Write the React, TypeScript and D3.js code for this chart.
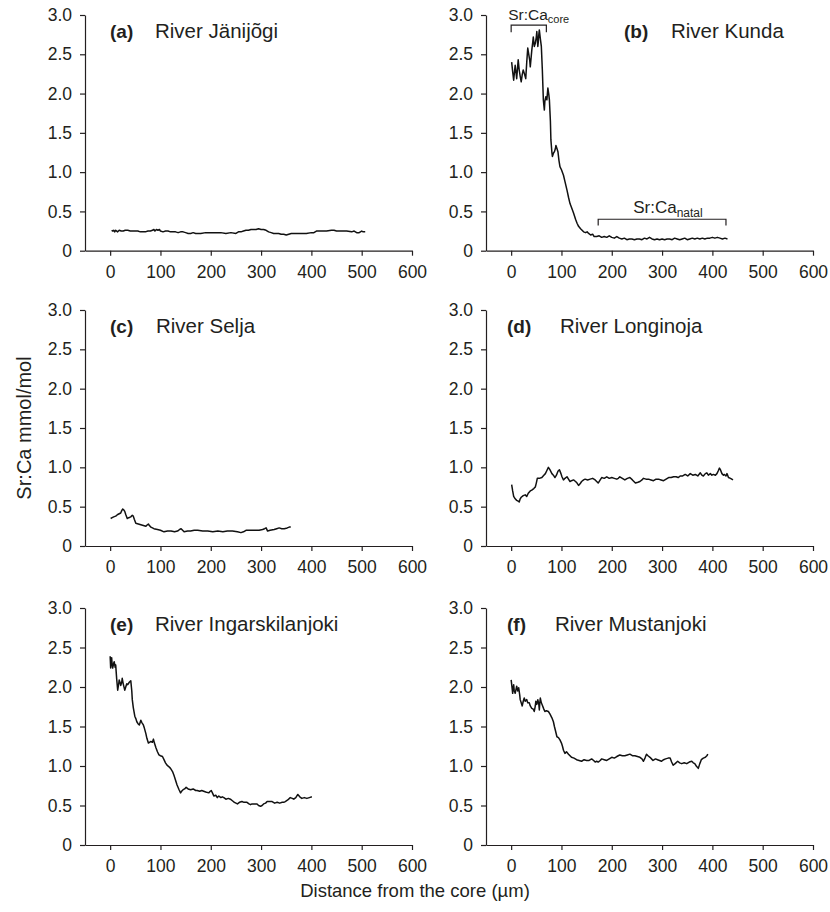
import React, { useRef, useEffect } from 'react';
import * as d3 from 'd3';

type Pt = [number, number];

const xTicks = [0, 100, 200, 300, 400, 500, 600];
const yTicks = [0, 0.5, 1.0, 1.5, 2.0, 2.5, 3.0];

// distance from core (µm), Sr:Ca (mmol/mol)
const janijogi: Pt[] = [
  [3, 0.26], [5, 0.25], [7, 0.26], [9, 0.24], [11, 0.26], [13, 0.25], [15, 0.24], [18, 0.26], [22, 0.25],
  [26, 0.25], [30, 0.26], [35, 0.26], [40, 0.25], [45, 0.25], [50, 0.25], [55, 0.25], [60, 0.24],
  [65, 0.24], [70, 0.24], [75, 0.25], [80, 0.25], [84, 0.26], [87, 0.27], [89, 0.25], [92, 0.27],
  [95, 0.26], [98, 0.27], [100, 0.25], [105, 0.24], [110, 0.25], [115, 0.25], [120, 0.24], [125, 0.24],
  [130, 0.24], [135, 0.23], [140, 0.24], [145, 0.24], [150, 0.23], [155, 0.22], [160, 0.22], [165, 0.23],
  [170, 0.22], [175, 0.22], [180, 0.22], [190, 0.23], [200, 0.23], [210, 0.23], [220, 0.23], [230, 0.22],
  [240, 0.23], [250, 0.22], [255, 0.24], [260, 0.24], [265, 0.25], [270, 0.26], [275, 0.26], [280, 0.27],
  [285, 0.27], [290, 0.27], [295, 0.28], [300, 0.27], [305, 0.27], [310, 0.26], [315, 0.24], [320, 0.23],
  [325, 0.22], [330, 0.22], [335, 0.22], [340, 0.21], [345, 0.21], [350, 0.2], [355, 0.21], [360, 0.22],
  [370, 0.22], [380, 0.22], [390, 0.22], [400, 0.23], [405, 0.23], [410, 0.25], [415, 0.25], [420, 0.25],
  [430, 0.25], [440, 0.26], [445, 0.26], [450, 0.25], [460, 0.25], [470, 0.25], [480, 0.24], [485, 0.25],
  [490, 0.23], [495, 0.23], [500, 0.25], [503, 0.24], [507, 0.24],
];

const kunda: Pt[] = [
  [1, 2.4], [3, 2.28], [5, 2.17], [7, 2.3], [8, 2.36], [10, 2.25], [11, 2.19], [13, 2.35], [14, 2.43],
  [16, 2.3], [18, 2.22], [20, 2.15], [22, 2.24], [24, 2.3], [26, 2.26], [29, 2.19], [31, 2.4], [33, 2.58],
  [35, 2.5], [37, 2.42], [38, 2.34], [40, 2.48], [41, 2.55], [43, 2.66], [44, 2.72], [46, 2.6], [48, 2.64],
  [50, 2.72], [51, 2.79], [53, 2.6], [54, 2.66], [55, 2.75], [56, 2.81], [58, 2.7], [60, 2.6], [62, 2.3],
  [64, 1.92], [66, 1.79], [67, 1.9], [69, 1.96], [71, 1.92], [73, 2.07], [75, 1.98], [76, 1.92], [78, 1.65],
  [79, 1.41], [81, 1.25], [82, 1.2], [84, 1.24], [86, 1.26], [88, 1.3], [89, 1.34], [91, 1.3], [93, 1.26],
  [95, 1.15], [97, 1.07], [100, 1.03], [104, 0.96], [107, 0.88], [111, 0.77], [114, 0.68], [117, 0.6],
  [120, 0.55], [124, 0.48], [128, 0.4], [131, 0.35], [134, 0.31], [138, 0.28], [141, 0.26], [144, 0.24],
  [148, 0.23], [151, 0.24], [154, 0.22], [158, 0.2], [162, 0.21], [165, 0.18], [170, 0.18], [175, 0.19],
  [180, 0.17], [185, 0.18], [190, 0.17], [195, 0.19], [200, 0.17], [205, 0.16], [210, 0.18], [215, 0.16],
  [220, 0.15], [225, 0.16], [230, 0.14], [235, 0.15], [240, 0.15], [245, 0.14], [250, 0.15], [255, 0.15],
  [260, 0.14], [265, 0.16], [270, 0.15], [275, 0.17], [280, 0.15], [285, 0.14], [290, 0.15], [295, 0.14],
  [300, 0.15], [305, 0.14], [310, 0.15], [315, 0.15], [320, 0.14], [325, 0.16], [330, 0.15], [335, 0.14],
  [340, 0.15], [345, 0.16], [350, 0.14], [355, 0.15], [360, 0.16], [365, 0.15], [370, 0.16], [375, 0.15],
  [380, 0.16], [385, 0.15], [390, 0.16], [395, 0.16], [400, 0.17], [405, 0.16], [410, 0.17], [415, 0.16],
  [420, 0.15], [425, 0.16], [430, 0.15],
];

const selja: Pt[] = [
  [1, 0.35], [4, 0.36], [7, 0.37], [11, 0.38], [15, 0.4], [18, 0.41], [21, 0.42], [23, 0.45], [25, 0.47],
  [27, 0.46], [29, 0.44], [31, 0.4], [34, 0.35], [37, 0.36], [41, 0.37], [44, 0.39], [46, 0.38], [48, 0.34],
  [51, 0.29], [56, 0.28], [61, 0.27], [66, 0.26], [71, 0.25], [74, 0.27], [76, 0.28], [78, 0.26], [81, 0.24],
  [87, 0.22], [94, 0.21], [100, 0.2], [107, 0.18], [114, 0.19], [121, 0.19], [128, 0.18], [134, 0.19],
  [138, 0.21], [141, 0.22], [144, 0.2], [147, 0.18], [154, 0.19], [160, 0.19], [167, 0.2], [174, 0.2],
  [184, 0.19], [194, 0.19], [204, 0.18], [214, 0.19], [224, 0.18], [233, 0.19], [243, 0.19], [253, 0.18],
  [260, 0.17], [265, 0.18], [270, 0.2], [278, 0.2], [286, 0.2], [296, 0.2], [303, 0.21], [307, 0.22],
  [310, 0.23], [313, 0.19], [318, 0.2], [326, 0.21], [331, 0.22], [336, 0.23], [341, 0.22], [346, 0.22],
  [352, 0.23], [356, 0.24], [359, 0.24],
];

const longinoja: Pt[] = [
  [1, 0.78], [3, 0.7], [5, 0.63], [8, 0.6], [11, 0.58], [14, 0.57], [16, 0.56], [18, 0.6], [20, 0.62],
  [24, 0.64], [28, 0.65], [31, 0.63], [34, 0.67], [38, 0.7], [41, 0.71], [45, 0.73], [48, 0.75], [50, 0.8],
  [52, 0.86], [56, 0.86], [61, 0.87], [65, 0.9], [68, 0.92], [71, 0.96], [74, 1.0], [77, 0.97], [81, 0.92],
  [84, 0.9], [87, 0.87], [90, 0.9], [93, 0.95], [96, 0.97], [99, 0.92], [101, 0.88], [104, 0.84],
  [107, 0.86], [111, 0.88], [114, 0.85], [117, 0.82], [120, 0.83], [124, 0.84], [128, 0.82], [131, 0.8],
  [134, 0.77], [137, 0.79], [140, 0.82], [144, 0.84], [147, 0.85], [152, 0.84], [157, 0.85], [162, 0.86],
  [167, 0.84], [170, 0.82], [173, 0.8], [177, 0.84], [180, 0.87], [185, 0.86], [190, 0.88], [195, 0.86],
  [200, 0.87], [205, 0.86], [210, 0.85], [213, 0.86], [216, 0.88], [221, 0.86], [226, 0.84], [231, 0.86],
  [236, 0.87], [241, 0.84], [247, 0.8], [252, 0.81], [256, 0.82], [260, 0.84], [263, 0.86], [268, 0.85],
  [273, 0.85], [278, 0.84], [283, 0.83], [288, 0.85], [293, 0.85], [298, 0.84], [303, 0.83], [308, 0.85],
  [313, 0.87], [318, 0.87], [323, 0.88], [328, 0.88], [332, 0.87], [336, 0.89], [341, 0.89], [346, 0.91],
  [351, 0.89], [356, 0.92], [361, 0.9], [366, 0.91], [371, 0.89], [376, 0.93], [379, 0.9], [382, 0.89],
  [386, 0.92], [389, 0.93], [392, 0.9], [396, 0.92], [399, 0.9], [402, 0.91], [406, 0.9], [409, 0.92],
  [412, 0.96], [414, 0.99], [416, 0.97], [419, 0.92], [422, 0.9], [424, 0.91], [427, 0.89], [429, 0.92],
  [432, 0.87], [436, 0.86], [441, 0.84],
];

const ingarskilanjoki: Pt[] = [
  [0, 2.39], [1, 2.24], [2, 2.34], [3, 2.37], [4, 2.28], [5, 2.24], [7, 2.3], [8, 2.32], [10, 2.25],
  [11, 2.28], [13, 2.1], [15, 1.96], [17, 2.04], [18, 2.09], [20, 2.05], [21, 2.02], [23, 2.06], [24, 2.11],
  [26, 2.04], [29, 1.96], [31, 2.0], [33, 2.04], [35, 2.03], [38, 2.06], [41, 2.08], [43, 1.95], [44, 1.84],
  [46, 1.74], [49, 1.63], [51, 1.6], [53, 1.56], [56, 1.53], [58, 1.52], [61, 1.58], [63, 1.55], [66, 1.52],
  [68, 1.48], [71, 1.41], [73, 1.35], [76, 1.29], [78, 1.3], [81, 1.31], [84, 1.3], [86, 1.34], [88, 1.29],
  [91, 1.23], [94, 1.18], [97, 1.14], [100, 1.13], [104, 1.12], [107, 1.08], [110, 1.04], [113, 1.01],
  [117, 0.99], [120, 0.97], [124, 0.93], [127, 0.88], [130, 0.82], [133, 0.76], [137, 0.7], [140, 0.66],
  [142, 0.68], [145, 0.7], [148, 0.71], [151, 0.73], [155, 0.71], [160, 0.7], [165, 0.71], [170, 0.69],
  [173, 0.69], [178, 0.68], [182, 0.69], [186, 0.68], [190, 0.67], [196, 0.66], [199, 0.68], [201, 0.69],
  [204, 0.65], [206, 0.62], [210, 0.63], [213, 0.6], [216, 0.62], [220, 0.6], [223, 0.61], [226, 0.6],
  [230, 0.58], [235, 0.59], [239, 0.58], [243, 0.56], [247, 0.54], [250, 0.53], [253, 0.52], [257, 0.54],
  [262, 0.55], [266, 0.54], [272, 0.54], [276, 0.52], [279, 0.51], [282, 0.52], [287, 0.52], [292, 0.52],
  [295, 0.5], [299, 0.49], [302, 0.5], [305, 0.52], [309, 0.53], [312, 0.55], [317, 0.55], [322, 0.55],
  [327, 0.53], [332, 0.54], [337, 0.53], [342, 0.54], [345, 0.54], [348, 0.55], [353, 0.57], [358, 0.6],
  [362, 0.59], [365, 0.58], [369, 0.6], [373, 0.64], [377, 0.61], [381, 0.59], [386, 0.6], [391, 0.59],
  [396, 0.6], [401, 0.61],
];

const mustanjoki: Pt[] = [
  [0, 2.09], [2, 1.98], [3, 1.92], [5, 2.03], [6, 1.96], [8, 1.92], [10, 1.98], [11, 2.01], [13, 1.95],
  [15, 1.99], [17, 1.9], [18, 1.84], [20, 1.8], [22, 1.76], [24, 1.82], [26, 1.86], [28, 1.82], [31, 1.84],
  [33, 1.8], [36, 1.8], [38, 1.76], [41, 1.73], [44, 1.72], [46, 1.69], [48, 1.76], [49, 1.82], [51, 1.78],
  [53, 1.84], [55, 1.78], [56, 1.71], [57, 1.8], [58, 1.86], [60, 1.8], [62, 1.77], [65, 1.72], [67, 1.69],
  [70, 1.7], [74, 1.69], [77, 1.66], [81, 1.61], [84, 1.56], [86, 1.5], [88, 1.45], [91, 1.37], [94, 1.36],
  [97, 1.33], [100, 1.29], [102, 1.25], [104, 1.2], [107, 1.16], [110, 1.18], [114, 1.15], [117, 1.13],
  [120, 1.11], [125, 1.1], [130, 1.08], [135, 1.07], [140, 1.06], [145, 1.08], [150, 1.07], [155, 1.07],
  [160, 1.09], [164, 1.07], [167, 1.05], [170, 1.06], [173, 1.05], [177, 1.07], [180, 1.09], [185, 1.08],
  [190, 1.07], [195, 1.09], [200, 1.11], [205, 1.1], [210, 1.12], [213, 1.13], [216, 1.14], [221, 1.13],
  [226, 1.13], [231, 1.14], [236, 1.15], [241, 1.13], [246, 1.13], [251, 1.12], [256, 1.11], [260, 1.09],
  [263, 1.06], [266, 1.1], [269, 1.15], [272, 1.13], [276, 1.11], [279, 1.09], [282, 1.07], [287, 1.09],
  [291, 1.08], [295, 1.07], [299, 1.06], [303, 1.08], [307, 1.09], [312, 1.1], [316, 1.1], [319, 1.05],
  [322, 1.01], [326, 1.03], [331, 1.06], [335, 1.04], [339, 1.03], [344, 1.04], [349, 1.03], [354, 1.05],
  [359, 1.06], [362, 1.04], [365, 1.03], [368, 1.0], [372, 0.97], [375, 1.03], [378, 1.08], [382, 1.1],
  [386, 1.11], [389, 1.13], [391, 1.15],
];

// annotation brackets on panel (b): [from, to] µm
const coreSpan: Pt = [0, 70];
const natalSpan: Pt = [173, 427];

const panels = [
  { tag: '(a)', river: 'River Jänijõgi', data: janijogi, col: 0, row: 0, gap: 45 },
  { tag: '(b)', river: 'River Kunda', data: kunda, col: 1, row: 0, gap: 47 },
  { tag: '(c)', river: 'River Selja', data: selja, col: 0, row: 1, gap: 46 },
  { tag: '(d)', river: 'River Longinoja', data: longinoja, col: 1, row: 1, gap: 53 },
  { tag: '(e)', river: 'River Ingarskilanjoki', data: ingarskilanjoki, col: 0, row: 2, gap: 45 },
  { tag: '(f)', river: 'River Mustanjoki', data: mustanjoki, col: 1, row: 2, gap: 48 },
];

const colX = [85, 486];
// [top, bottom] of each row's y axis
const rowY = [[15, 250.7], [310, 546], [608, 845]];
const ink = '#231f20';
const font = 'Arial, "Liberation Sans", Helvetica, sans-serif';

const App = () => {
  const ref = useRef<SVGSVGElement>(null);

  useEffect(() => {
    const svg = d3.select(ref.current);
    svg.selectAll('*').remove();

    panels.forEach((p) => {
      const [top, bottom] = rowY[p.row];
      const x = d3.scaleLinear().domain([-50, 600]).range([colX[p.col], colX[p.col] + 327]);
      const y = d3.scaleLinear().domain([0, 3]).range([bottom, top]);
      const g = svg.append('g');

      g.append('g')
        .attr('transform', `translate(0,${y(0)})`)
        .call(d3.axisBottom(x).tickValues(xTicks).tickFormat(d3.format('d')).tickSize(5).tickSizeOuter(0).tickPadding(10))
        .call((a) => a.select('.domain').attr('stroke', ink).attr('stroke-width', 1.2))
        .call((a) => a.selectAll('.tick line').attr('stroke', ink).attr('stroke-width', 1.2))
        .call((a) => a.selectAll('.tick text').attr('fill', ink).attr('font-size', 17.5).attr('font-family', font));

      g.append('g')
        .attr('transform', `translate(${colX[p.col]},0)`)
        .call(d3.axisLeft(y).tickValues(yTicks).tickFormat((d) => (+d === 0 ? '0' : d3.format('.1f')(+d))).tickSize(5).tickSizeOuter(0).tickPadding(8))
        .call((a) => a.select('.domain').attr('stroke', ink).attr('stroke-width', 1.2))
        .call((a) => a.selectAll('.tick line').attr('stroke', ink).attr('stroke-width', 1.2))
        .call((a) => a.selectAll('.tick text').attr('fill', ink).attr('font-size', 17.5).attr('font-family', font));

      const line = d3.line<Pt>().x((d) => x(d[0])).y((d) => y(d[1]));
      g.append('path')
        .datum(p.data)
        .attr('fill', 'none')
        .attr('stroke', '#111')
        .attr('stroke-width', 1.5)
        .attr('stroke-linejoin', 'round')
        .attr('d', line);

      const tx = p.col === 0 ? 110 : p.row === 0 ? 624 : 507;
      const ty = top + 23;
      g.append('text').attr('x', tx).attr('y', ty).attr('font-weight', 'bold')
        .attr('font-size', 19).attr('font-family', font).attr('fill', ink).text(p.tag);
      g.append('text').attr('x', tx + p.gap).attr('y', ty)
        .attr('font-size', 20.5).attr('font-family', font).attr('fill', ink).text(p.river);

      if (p.tag === '(b)') {
        const bracket = (span: Pt, level: number, drop: number) => {
          g.append('path')
            .attr('d', `M${x(span[0])},${y(level - drop)}V${y(level)}H${x(span[1])}V${y(level - drop)}`)
            .attr('fill', 'none').attr('stroke', ink).attr('stroke-width', 1.2);
        };
        bracket(coreSpan, 2.87, 0.09);
        bracket(natalSpan, 0.4, 0.08);

        const core = g.append('text').attr('x', x(coreSpan[0]) - 3).attr('y', y(2.87) - 5)
          .attr('font-size', 15.5).attr('font-family', font).attr('fill', ink);
        core.append('tspan').text('Sr:Ca');
        core.append('tspan').attr('font-size', 11).attr('dy', 3).text('core');

        const natal = g.append('text').attr('x', x(natalSpan[0]) + 35).attr('y', y(0.4) - 6)
          .attr('font-size', 17).attr('font-family', font).attr('fill', ink);
        natal.append('tspan').text('Sr:Ca');
        natal.append('tspan').attr('font-size', 12).attr('dy', 4).text('natal');
      }
    });

    svg.append('text')
      .attr('transform', 'translate(31,428) rotate(-90)')
      .attr('text-anchor', 'middle')
      .attr('font-size', 20).attr('font-family', font).attr('fill', ink)
      .text('Sr:Ca mmol/mol');

    svg.append('text')
      .attr('x', 415).attr('y', 897)
      .attr('text-anchor', 'middle')
      .attr('font-size', 18.5).attr('font-family', font).attr('fill', ink)
      .text('Distance from the core (µm)');
  }, []);

  return (
    <svg
      ref={ref}
      width={830}
      height={912}
      style={{ position: 'absolute', left: 0, top: 0, background: '#fff' }}
    />
  );
};

export default App;
